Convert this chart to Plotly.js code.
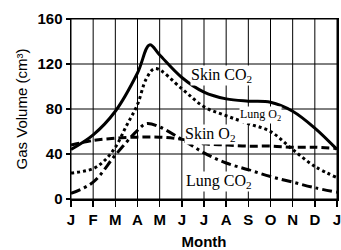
<!DOCTYPE html>
<html><head><meta charset="utf-8">
<script src="https://cdn.plot.ly/plotly-3.0.1.min.js"></script>
<style>html,body{margin:0;padding:0;background:#fff}#c{width:341px;height:250px}</style>
</head><body><div id="c"></div>
<script>
// month tick positions and labels
const monthIdx = [0,1,2,3,4,5,6,7,8,9,10,11,12];
const monthLabels = ['J','F','M','A','M','J','J','A','S','O','N','D','J'];
const yTicks = [0,40,80,120,160];

// Skin CO2 (solid)
const skinCO2_x = [0,1,2,3,3.55,4,5,6,7,8,9,10,11,12];
const skinCO2_y = [44,57,78,112,137,128,108,95,89,87,86,78,63,44];

// Lung O2 (dotted)
const lungO2_x = [0,1,1.5,2,2.5,3,3.4,3.8,5,6,7,8,9,10,11,12];
const lungO2_y = [23,27,34,46,65,84,107,116,98,82,74,67,60,44,29,19];

// Skin O2 (dashed)
const skinO2_x = [0,1,2,3,4,5,6,7,8,9,10,11,12];
const skinO2_y = [48,52,54,55,55,53,49,48,47,47,46,46,45];

// Lung CO2 (dash-dot)
const lungCO2_x = [0,1,2,3,3.4,4,5,6,7,8,9,10,11,12];
const lungCO2_y = [5,15,39,61,67,64,53,41,32,26,20,15,10,6];

const base = {type:'scatter', mode:'lines', hoverinfo:'skip', showlegend:false};
const traces = [
  Object.assign({}, base, {x:skinO2_x, y:skinO2_y, line:{color:'#000', width:3, dash:'8px,4px', shape:'spline'}}),
  Object.assign({}, base, {x:lungCO2_x, y:lungCO2_y, line:{color:'#000', width:3, dash:'10px,4px,3px,4px', shape:'spline'}}),
  Object.assign({}, base, {x:lungO2_x, y:lungO2_y, line:{color:'#000', width:3, dash:'3px,3px', shape:'spline'}}),
  Object.assign({}, base, {x:skinCO2_x, y:skinCO2_y, line:{color:'#000', width:3, shape:'spline'}})
];

const serif = 'Liberation Serif, Times New Roman, serif';
const ann = (text, x, y, size) => ({text, x, y, xref:'x', yref:'y', showarrow:false,
  font:{family:serif, size, color:'#000'}, bgcolor:'rgba(255,255,255,1)', borderpad:0});

// grid lines drawn as axis-referenced shapes at the tick values
const gridShapes = [];
monthIdx.forEach(v => gridShapes.push({type:'line', xref:'x', yref:'paper', x0:v, x1:v, y0:0, y1:1,
  line:{color:'#000', width:1}, layer:'below'}));
yTicks.forEach(v => gridShapes.push({type:'line', xref:'paper', yref:'y', x0:0, x1:1, y0:v, y1:v,
  line:{color:'#000', width:1}, layer:'below'}));

const layout = {
  width:341, height:250,
  margin:{l:71, r:4, t:19, b:51},
  paper_bgcolor:'#fff', plot_bgcolor:'#fff',
  font:{family:'Liberation Sans, Arial, sans-serif', color:'#000'},
  xaxis:{range:[0,12], tickmode:'array', tickvals:monthIdx, ticktext:monthLabels, showgrid:false,
    zeroline:false, showline:true, linecolor:'#000', linewidth:1.5, mirror:true,
    ticks:'outside', ticklen:6, tickcolor:'#000', tickwidth:1.5, ticklabeloverflow:'allow',
    tickfont:{size:15, family:'Liberation Sans, Arial, sans-serif', weight:'bold'},
    title:{text:'Month', font:{size:15, weight:'bold'}, standoff:11}},
  yaxis:{range:[0,160], tickmode:'array', tickvals:yTicks, showgrid:false,
    zeroline:false, showline:true, linecolor:'#000', linewidth:1.5, mirror:true,
    ticks:'outside', ticklen:4, tickcolor:'#000', tickwidth:1.5,
    tickfont:{size:15, weight:'bold'},
    title:{text:'Gas Volume (cm³)', font:{size:15}, standoff:6}},
  shapes: gridShapes,
  annotations:[
    ann('Skin CO<sub>2</sub>', 6.81, 110, 16),
    ann('Lung O<sub>2</sub>', 8.57, 75, 12),
    ann('Skin O<sub>2</sub>', 6.31, 57, 16),
    ann('Lung CO<sub>2</sub>', 6.68, 15.5, 16)
  ]
};
Plotly.newPlot('c', traces, layout, {staticPlot:true, displayModeBar:false});
</script></body></html>
